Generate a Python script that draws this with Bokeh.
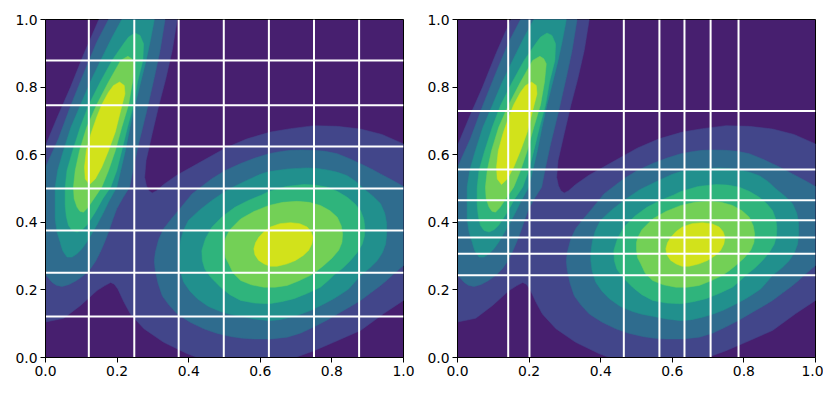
from bokeh.plotting import figure
from bokeh.layouts import row
from bokeh.embed import file_html
from bokeh.resources import INLINE
from bokeh.models import Range1d, FixedTicker

band_colors = ["#42468a", "#2f6c8e", "#21908d", "#2fb47c", "#73d056", "#d2e21b"]
background_color = "#471f6f"

tick_values = [0.0, 0.2, 0.4, 0.6, 0.8, 1.0]
tick_labels = ["0.0", "0.2", "0.4", "0.6", "0.8", "1.0"]

left_grid_x = [0.121, 0.248, 0.372, 0.498, 0.624, 0.75, 0.876]
left_grid_y = [0.121, 0.251, 0.376, 0.5, 0.624, 0.746, 0.879]
right_grid_x = [0.1416, 0.201, 0.4646, 0.564, 0.634, 0.707, 0.785]
right_grid_y = [0.243, 0.307, 0.355, 0.406, 0.465, 0.556, 0.729]

level1_main = [(0,.105),(.051,.116),(.098,.154),(.144,.198),(.165,.212),(.182,.222),(.192,.217),(.202,.203),(.219,.164),(.237,.129),
    (.275,.085),(.33,.045),(.396,.011),(.424,0),(.698,0),(.75,.02),(.805,.045),(.88,.08),(.945,.13),(1,.169),
    (1,.632),(.94,.66),(.88,.676),(.815,.684),(.75,.686),(.684,.677),(.628,.667),(.563,.647),(.503,.62),(.424,.573),(.368,.54),
    (.33,.512),(.31,.493),(.298,.487),(.289,.493),(.282,.508),(.277,.533),(.281,.583),(.298,.662),(.317,.748),(.335,.82),
    (.354,.908),(.368,1),(.149,1),(.107,.898),(.07,.8),(.033,.711),(0,.627)]

level2_ridge = [(.176,1),(.143,.933),(.106,.839),(.069,.741),(.036,.647),(0,.563),(0,.245),(.018,.223),(.03,.214),(.046,.21),
    (.066,.216),(.087,.228),(.107,.243),(.125,.262),(.14,.285),(.153,.312),(.165,.341),(.176,.371),(.187,.405),(.199,.44),(.216,.472),
    (.235,.504),(.244,.553),(.26,.632),(.283,.731),(.304,.829),(.32,.908),(.334,1)]
level2_bump = [(1,.506),(.968,.525),(.936,.543),(.908,.559),(.88,.573),(.848,.589),(.815,.603),(.782,.610),(.749,.613),(.716,.614),
    (.684,.613),(.654,.609),(.624,.603),(.585,.590),(.545,.574),(.502,.553),(.4645,.529),(.409,.484),(.3715,.435),(.35,.408),
    (.33,.381),(.316,.349),(.307,.312),(.304,.287),(.306,.262),(.314,.221),(.326,.183),(.345,.155),(.368,.129),(.403,.105),(.442,.085),
    (.478,.072),(.517,.062),(.55,.057),(.582,.055),(.63,.055),(.675,.06),(.712,.072),(.749,.09),(.787,.111),(.824,.134),(.852,.151),
    (.88,.169),(.908,.191),(.936,.213),(.955,.23),(.973,.248),(1,.272)]

level3_ridge = [(.213,1),(.185,.945),(.154,.879),(.125,.815),(.098,.748),(.071,.681),(.05,.612),(.034,.553),(.027,.504),
    (.027,.41),(.032,.372),(.041,.341),(.048,.316),(.06,.297),(.074,.297),(.088,.307),(.102,.322),(.115,.341),(.129,.366),(.143,.391),
    (.16,.425),(.176,.46),(.199,.504),(.21,.553),(.223,.612),(.236,.681),(.25,.748),(.266,.815),(.281,.879),(.292,.933),(.304,1)]
level3_bump = [(.372,.292),(.373,.316),(.377,.345),(.385,.375),(.399,.405),(.43,.436),(.4645,.4645),(.51,.497),(.562,.524),(.6,.542),
    (.624,.55),(.678,.558),(.731,.561),(.76,.559),(.787,.555),(.816,.548),(.843,.538),(.868,.52),
    (.889,.499),(.914,.478),(.936,.455),(.948,.426),(.953,.396),(.953,.365),(.95,.336),(.941,.31),(.927,.287),(.905,.264),(.88,.243),
    (.863,.222),(.847,.203),(.828,.189),(.805,.174),(.775,.157),(.745,.141),(.715,.129),(.684,.119),(.654,.112),(.624,.109),(.584,.114),
    (.545,.122),(.515,.128),(.489,.136),(.455,.151),(.424,.174),(.403,.197),(.386,.223),(.376,.257)]

level4_ridge = [(.055,.504),(.055,.45),(.058,.418),(.064,.391),(.074,.376),(.088,.371),(.102,.378),(.115,.391),(.127,.41),(.139,.43),
    (.16,.47),(.182,.504),(.199,.553),(.213,.612),(.229,.681),(.246,.748),(.257,.815),(.272,.879),(.274,.928),(.264,.953),(.25,.96),
    (.232,.948),(.218,.928),(.186,.879),(.153,.815),(.121,.748),(.097,.681),(.076,.612),(.06,.553)]
level4_bump = [(.438,.287),(.4366,.3166),(.447,.352),(.4645,.3855),(.495,.418),(.53,.445),(.565,.464),(.604,.481),
    (.624,.491),(.672,.506),(.722,.512),(.755,.51),(.787,.504),(.816,.491),(.843,.474),(.864,.455),(.88,.435),(.889,.41),(.892,.385),
    (.891,.36),(.885,.336),(.871,.311),(.852,.287),(.83,.264),(.805,.243),(.787,.225),(.768,.208),(.732,.19),(.694,.174),(.659,.165),
    (.624,.159),(.584,.161),(.545,.169),(.515,.186),(.489,.208),(.461,.238),(.445,.262)]

level5_ridge = [(.23,.891),(.21,.879),(.176,.815),(.143,.748),(.115,.681),(.095,.612),(.083,.553),(.078,.504),(.08,.47),
    (.088,.445),(.096,.433),(.106,.43),(.118,.443),(.129,.46),(.157,.504),(.176,.553),(.195,.612),(.213,.681),(.232,.748),(.243,.815),
    (.248,.869),(.241,.884)]
level5_bump = [(.5,.341),(.504,.356),(.515,.378),(.545,.41),(.582,.432),(.624,.45),(.663,.459),(.703,.462),(.737,.459),(.768,.45),
    (.795,.434),(.815,.415),(.826,.39),(.83,.366),(.828,.34),(.819,.317),(.8,.294),(.777,.272),(.759,.257),(.74,.243),(.708,.227),
    (.675,.213),(.642,.208),(.61,.208),(.575,.215),(.545,.228),(.524,.25),(.512,.277),(.503,.295),(.5,.318)]

level6_ridge = [(.207,.815),(.19,.805),(.176,.785),(.157,.748),(.143,.711),(.127,.662),(.114,.612),(.109,.563),(.111,.528),
    (.123,.512),(.139,.528),(.157,.563),(.176,.612),(.195,.667),(.21,.731),(.222,.78),(.22,.805)]
level6_bump = [(.582,.322),(.587,.34),(.596,.356),(.61,.372),(.628,.386),(.655,.396),(.684,.399),(.71,.396),(.731,.386),(.742,.372),
    (.747,.356),(.744,.336),(.735,.317),(.72,.302),(.698,.287),(.675,.277),(.647,.27),(.627,.27),(.61,.277),(.595,.288),(.585,.304)]

bands = [
    [level1_main],
    [level2_ridge, level2_bump],
    [level3_ridge, level3_bump],
    [level4_ridge, level4_bump],
    [level5_ridge, level5_bump],
    [level6_ridge, level6_bump],
]


def panel(grid_x, grid_y, width, border_left, border_right):
    p = figure(width=width, height=384, output_backend="svg", toolbar_location=None,
               x_range=Range1d(0, 1), y_range=Range1d(0, 1), min_border_left=border_left,
               min_border_right=border_right, min_border_top=19, min_border_bottom=27,
               frame_width=358, frame_height=338, background_fill_color=background_color)
    p.grid.visible = False
    p.outline_line_color = "black"
    p.outline_line_width = 1
    p.outline_line_alpha = 1
    for axis in (p.xaxis[0], p.yaxis[0]):
        axis.ticker = FixedTicker(ticks=tick_values)
        axis.major_label_overrides = dict(zip(tick_values, tick_labels))
        axis.minor_tick_line_color = None
        axis.major_tick_in = 0
        axis.major_tick_out = 5
        axis.major_label_text_font = "DejaVu Sans"
        axis.major_label_text_font_size = "13.9px"
        axis.major_label_text_color = "black"
        axis.axis_line_color = "black"
        axis.major_label_standoff = 3
    for color, polys in zip(band_colors, bands):
        xs = [[v[0] for v in poly] for poly in polys]
        ys = [[v[1] for v in poly] for poly in polys]
        p.patches(xs, ys, fill_color=color, line_color=color, line_width=0.5)
    p.segment(grid_x, [0] * len(grid_x), grid_x, [1] * len(grid_x), line_color="white", line_width=2)
    p.segment([0] * len(grid_y), grid_y, [1] * len(grid_y), grid_y, line_color="white", line_width=2)
    return p


left = panel(left_grid_x, left_grid_y, 420, 45, 17)
right = panel(right_grid_x, right_grid_y, 403, 37, 8)
open("out.html", "w").write(file_html(row(left, right), INLINE))
